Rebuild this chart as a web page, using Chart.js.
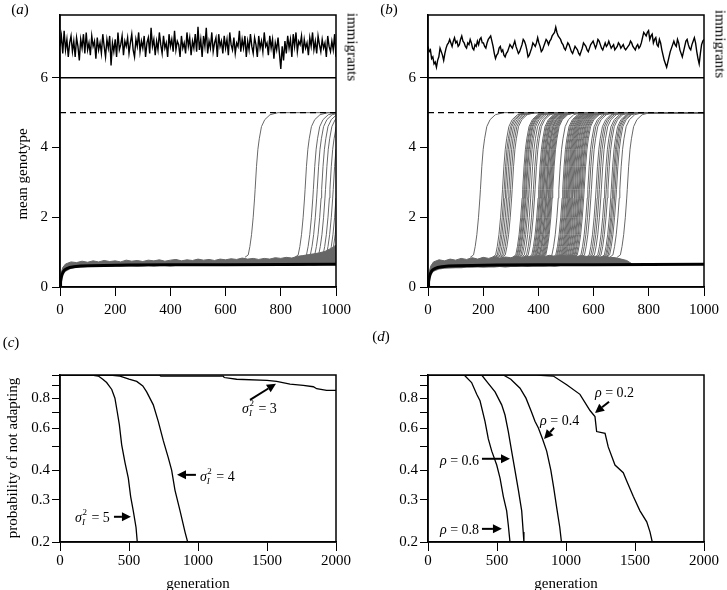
<!DOCTYPE html>
<html>
<head>
<meta charset="utf-8">
<script src="https://cdn.jsdelivr.net/npm/chart.js@4.4.1/dist/chart.umd.min.js"></script>
<style>
  body { margin: 0; background: #fff; }
  #wrap { position: relative; width: 727px; height: 590px; overflow: hidden;
          font-family: "Liberation Serif", "Times New Roman", serif; color: #000; }
  canvas { position: absolute; left: 0; top: 0; }
  .lbl { position: absolute; font-size: 15px; white-space: nowrap; line-height: 1;
         transform: translate(-50%, -50%); }
  .rotl { transform: translate(-50%, -50%) rotate(-90deg); }
  .rotr { transform: translate(-50%, -50%) rotate(90deg); }
</style>
</head>
<body>
<div id="wrap">
  <canvas id="chartA" width="727" height="590"></canvas>
  <canvas id="chartB" width="727" height="590"></canvas>
  <canvas id="chartC" width="727" height="590"></canvas>
  <canvas id="chartD" width="727" height="590"></canvas>

  <div class="lbl" style="left:20px; top:9px;">(<i>a</i>)</div>
  <div class="lbl" style="left:389px; top:9px;">(<i>b</i>)</div>
  <div class="lbl" style="left:11px; top:342px;">(<i>c</i>)</div>
  <div class="lbl" style="left:381px; top:336px;">(<i>d</i>)</div>

  <div class="lbl rotl" style="left:22px; top:174px;">mean genotype</div>
  <div class="lbl rotr" style="left:352px; top:47px;">immigrants</div>
  <div class="lbl rotr" style="left:720px; top:44px;">immigrants</div>

  <div class="lbl rotl" style="left:12px; top:458px;">probability of not adapting</div>
  <div class="lbl" style="left:198px; top:583px;">generation</div>
  <div class="lbl" style="left:566px; top:583px;">generation</div>
</div>

<script>
// ---------- data: panels (a) and (b) ----------
const generationTicks = [0, 200, 400, 600, 800, 1000];
const genotypeTicks = [0, 2, 4, 6];
const optimum = 5;

// mean genotype of populations that do not adapt (thick black)
const meanTimes = [0, 2, 5, 8, 12, 17, 25, 35, 50, 75, 110, 160, 250, 400, 600, 800, 1000];
const meanGenotype = [0, 0.15, 0.28, 0.37, 0.44, 0.49, 0.53, 0.56, 0.58, 0.6, 0.61, 0.62, 0.63, 0.635, 0.64, 0.645, 0.65];

// immigrant series in the top strips (evenly spaced over 0..1000)
const immigrantsA = [
  6.9, 7.2, 6.7, 7.35, 6.8, 7.1, 6.6, 7.0, 7.2, 6.75,
  7.05, 6.6, 7.15, 6.9, 6.5, 7.1, 6.85, 7.25, 6.7, 7.3,
  6.8, 7.0, 6.65, 7.2, 6.9, 7.05, 6.55, 7.15, 6.8, 7.0,
  6.7, 7.25, 6.9, 6.6, 7.1, 6.85, 7.2, 6.35, 7.0, 6.75,
  7.1, 6.6, 7.3, 6.8, 6.95, 7.2, 6.65, 7.05, 6.9, 7.15,
  6.7, 7.0, 7.25, 6.8, 6.6, 7.1, 6.9, 7.3, 6.75, 7.05,
  6.85, 7.2, 6.6, 7.0, 7.15, 6.7, 7.43, 6.9, 7.1, 6.65,
  7.05, 6.8, 7.3, 6.95, 6.7, 7.2, 6.85, 7.0, 6.6, 7.25,
  6.9, 7.1, 6.75, 7.35, 6.8, 7.05, 6.95, 6.6, 7.2, 6.85,
  7.0, 6.7, 7.3, 6.9, 7.15, 6.65, 7.05, 6.85, 7.25, 6.75,
  7.46, 6.8, 7.1, 6.6, 7.2, 6.9, 7.43, 6.7, 7.05, 6.85,
  7.3, 6.75, 7.0, 7.15, 6.6, 7.25, 6.9, 7.05, 6.7, 7.2,
  6.85, 7.1, 6.65, 7.3, 6.95, 6.8, 7.15, 6.7, 7.0, 6.9,
  7.35, 6.75, 7.1, 6.85, 7.2, 6.6, 7.05, 6.8, 7.25, 6.9,
  6.7, 7.15, 6.95, 6.6, 7.2, 6.85, 7.05, 6.75, 7.3, 6.9,
  7.0, 6.65, 7.2, 6.85, 7.1, 6.55, 7.0, 6.8, 7.15, 6.7,
  6.25, 6.9, 6.5, 7.05, 6.7, 7.2, 6.85, 7.1, 6.6, 7.25,
  6.9, 7.3, 6.75, 7.05, 6.95, 7.2, 6.7, 7.1, 6.85, 7.0,
  6.65, 7.15, 6.9, 7.3, 6.8, 7.05, 6.7, 7.2, 6.95, 6.75,
  7.1, 6.85, 7.0, 6.6, 7.2, 6.9, 6.75, 7.05, 6.8, 7.25,
  6.6
];
const immigrantsB = [
  6.9, 6.75, 6.8, 6.55, 6.6, 6.4, 6.45, 6.3, 6.5, 6.6, 6.85, 6.75, 6.65, 6.5, 6.7, 6.85, 6.95, 7.0,
  7.1, 7.0, 6.9, 7.05, 7.15, 7.0, 7.05, 6.9, 6.95, 7.1, 7.2, 7.05, 7.0, 6.9, 6.85, 7.0, 6.95, 7.1,
  7.0, 6.85, 6.8, 6.95, 6.9, 7.05, 6.95, 7.1, 7.15, 7.0, 7.0, 6.9, 6.85, 7.0, 7.1, 7.15, 7.2, 7.05,
  6.9, 6.7, 6.55, 6.65, 6.7, 6.85, 6.9, 6.75, 6.8, 6.65, 6.6, 6.7, 6.75, 6.85, 6.95, 6.9, 6.85, 6.95, 7.05,
  6.9, 6.8, 6.7, 6.75, 6.85, 6.95, 7.1, 7.05, 6.95, 6.8, 6.6, 6.65, 6.75, 6.85, 7.0, 6.95, 6.9, 7.0, 7.15,
  7.0, 6.9, 6.75, 6.8, 6.9, 7.0, 7.1, 7.05, 6.95, 7.05, 7.1, 7.2, 7.25, 7.3, 7.45, 7.3, 7.2, 7.15,
  7.1, 7.0, 6.95, 6.85, 6.8, 6.9, 7.0, 6.95, 6.85, 6.75, 6.7, 6.8, 6.9, 6.85, 6.8, 6.7, 6.65, 6.75, 6.85,
  7.0, 6.95, 6.9, 6.8, 6.75, 6.85, 6.95, 7.0, 7.05, 6.95, 6.85, 6.95, 7.1, 7.05, 6.95, 6.85, 6.8, 6.9, 7.0,
  6.9, 6.95, 7.05, 6.95, 6.85, 6.9, 6.95, 6.8, 6.85, 6.9, 7.0, 6.95, 6.85, 6.9, 6.95, 6.85, 6.8, 6.85,
  6.9, 6.95, 7.05, 7.0, 6.9, 6.85, 6.8, 6.9, 6.95, 6.85, 6.9, 7.0, 7.15, 7.3, 7.25, 7.2, 7.3, 7.35,
  7.1, 7.2, 7.25, 7.0, 7.1, 7.15, 6.95, 6.9, 7.1, 7.0, 6.8, 6.65, 6.5, 6.4, 6.3, 6.45, 6.6, 6.75,
  6.85, 6.95, 7.05, 6.95, 6.9, 7.1, 7.0, 6.8, 6.7, 6.6, 6.75, 6.9, 7.05, 7.1, 6.95, 6.85, 6.8, 6.95,
  7.05, 7.15, 7.0, 6.75, 6.55, 6.4, 6.7, 6.95, 7.05, 7.1
];

// grey band of non-adapted replicates: lower / upper edge
const bandTimesA = [0, 5, 10, 20, 40, 60, 80, 100, 120, 140, 160, 180, 200, 220, 240, 260, 280, 300, 320, 340,
  360, 380, 400, 420, 440, 460, 480, 500, 520, 540, 560, 580, 600, 620, 640, 660, 680, 700, 720, 740,
  760, 780, 800, 820, 840, 860, 880, 900, 920, 940, 960, 980, 1000];
const bandUpperA = [0, 0.42, 0.56, 0.66, 0.72, 0.70, 0.74, 0.71, 0.75, 0.72, 0.76, 0.73, 0.75, 0.72, 0.77, 0.74, 0.76, 0.73, 0.77, 0.75,
  0.78, 0.74, 0.77, 0.79, 0.75, 0.78, 0.76, 0.8, 0.77, 0.79, 0.76, 0.8, 0.78, 0.81, 0.79, 0.83, 0.8, 0.82, 0.79, 0.82,
  0.8, 0.84, 0.82, 0.85, 0.83, 0.88, 0.9, 0.93, 0.95, 0.98, 1.02, 1.1, 1.2];
const bandLowerA = [0, 0.2, 0.33, 0.44, 0.52, 0.55, 0.56, 0.57, 0.57, 0.58, 0.58, 0.58, 0.59, 0.58, 0.59, 0.59, 0.58, 0.59, 0.6, 0.59,
  0.6, 0.6, 0.59, 0.6, 0.6, 0.61, 0.6, 0.6, 0.61, 0.6, 0.61, 0.61, 0.6, 0.61, 0.61, 0.62, 0.61, 0.61, 0.62, 0.61,
  0.62, 0.62, 0.61, 0.62, 0.62, 0.62, 0.62, 0.63, 0.62, 0.63, 0.63, 0.63, 0.63];

const bandTimesB = [0, 5, 10, 20, 40, 60, 80, 100, 120, 140, 160, 180, 200, 220, 240, 260, 280, 300, 320, 340,
  360, 380, 400, 420, 440, 460, 480, 500, 520, 540, 560, 580, 600, 620, 640, 660, 680, 700, 720, 740];
const bandUpperB = [0, 0.45, 0.6, 0.72, 0.78, 0.75, 0.8, 0.77, 0.82, 0.79, 0.84, 0.8, 0.85, 0.82, 0.87, 0.83, 0.86, 0.84, 0.88, 0.85,
  0.89, 0.86, 0.9, 0.87, 0.91, 0.88, 0.92, 0.89, 0.9, 0.88, 0.9, 0.87, 0.89, 0.86, 0.88, 0.85, 0.84, 0.8, 0.76, 0.66];
const bandLowerB = [0, 0.2, 0.33, 0.44, 0.5, 0.52, 0.53, 0.54, 0.54, 0.55, 0.55, 0.56, 0.55, 0.56, 0.56, 0.57, 0.56, 0.57, 0.57, 0.58,
  0.57, 0.58, 0.58, 0.58, 0.59, 0.58, 0.6, 0.62, 0.63, 0.63, 0.64, 0.64, 0.64, 0.64, 0.64, 0.65, 0.65, 0.65, 0.65, 0.65];

// shape of one adapting trajectory in (a): offset from the time it crosses ~2.8
const riseOffsets = [-37, -25, -19, -13, -7, -2, 0, 5, 10, 15, 23, 35, 54, 83, 1100];
const riseGenotype = [0.85, 0.92, 1.16, 1.5, 2.0, 2.55, 2.8, 3.46, 3.95, 4.25, 4.6, 4.8, 4.94, 5.0, 5.0];

// generation at which each replicate takes off
const riseTimesA = [707, 888, 918, 932, 948, 962, 978, 990, 1002, 1010];
const riseTimesB = [190, 270, 276, 281, 287, 293, 299, 305, 343, 347, 350, 354, 357, 362, 367, 374, 382, 388,
  401, 405, 408, 412, 415, 418, 420, 424, 428, 430, 433, 437, 440, 443, 446, 449, 452, 474,
  488, 492, 495, 499, 502, 506, 509, 512, 515, 518, 521, 524, 527, 531, 534, 538, 541, 545, 548, 551, 555, 558, 562, 566,
  579, 585, 592, 609, 615, 621, 628, 640, 646, 652, 664, 669, 673, 678, 683, 695, 722];

// ---------- data: panels (c) and (d) ----------
const survGenTicks = [0, 500, 1000, 1500, 2000];
const probTicks = [0.2, 0.3, 0.4, 0.5, 0.6, 0.7, 0.8, 0.9, 1.0];
const probLabels = [0.2, 0.3, 0.4, 0.6, 0.8];

const sigma3Times = [0, 720, 730, 1183, 1190, 1280, 1500, 1570, 1667, 1763, 1836, 1860, 1932, 2000];
const sigma3Prob  = [1, 1, 0.99, 0.99, 0.976, 0.96, 0.95, 0.94, 0.915, 0.905, 0.893, 0.876, 0.862, 0.862];
const sigma4Times = [0, 362, 435, 500, 556, 600, 628, 676, 712, 749, 785, 809, 833, 870, 906, 925];
const sigma4Prob  = [1, 1, 0.99, 0.96, 0.94, 0.9, 0.85, 0.75, 0.64, 0.53, 0.45, 0.4, 0.33, 0.27, 0.22, 0.2];
const sigma5Times = [0, 230, 278, 310, 338, 375, 398, 415, 430, 447, 471, 495, 512, 531, 551, 560];
const sigma5Prob  = [1, 1, 0.99, 0.96, 0.93, 0.87, 0.8, 0.7, 0.62, 0.51, 0.43, 0.37, 0.31, 0.27, 0.23, 0.2];

const rho2Times = [0, 787, 908, 1005, 1101, 1174, 1210, 1222, 1283, 1306, 1355, 1415, 1440, 1488, 1536, 1585, 1609, 1625];
const rho2Prob  = [1, 1, 0.99, 0.91, 0.83, 0.71, 0.67, 0.58, 0.57, 0.5, 0.42, 0.39, 0.36, 0.31, 0.27, 0.243, 0.22, 0.2];
const rho4Times = [0, 546, 600, 667, 710, 750, 775, 800, 830, 860, 890, 910, 932, 955, 967];
const rho4Prob  = [1, 1, 0.96, 0.88, 0.8, 0.7, 0.64, 0.6, 0.54, 0.48, 0.4, 0.34, 0.28, 0.23, 0.2];
const rho6Times = [0, 389, 425, 486, 534, 558, 582, 606, 630, 655, 679, 690, 695];
const rho6Prob  = [1, 1, 0.94, 0.85, 0.75, 0.68, 0.58, 0.48, 0.4, 0.33, 0.27, 0.22, 0.2];
const rho8Times = [0, 262, 316, 353, 377, 413, 437, 462, 498, 522, 546, 570, 582, 594];
const rho8Prob  = [1, 1, 0.93, 0.83, 0.78, 0.64, 0.54, 0.48, 0.42, 0.37, 0.31, 0.27, 0.235, 0.2];

// ---------- drawing ----------
const serif = '"Liberation Serif", "Times New Roman", serif';
const tickFont = { family: serif, size: 15 };

function pts(xs, ys) { return xs.map((x, i) => ({ x: x, y: ys[i] })); }

function drawArrow(ctx, x1, y1, x2, y2) {
  const a = Math.atan2(y2 - y1, x2 - x1), L = 9, W = 4.5;
  const bx = x2 - L * Math.cos(a), by = y2 - L * Math.sin(a);
  ctx.lineWidth = 2;
  ctx.beginPath(); ctx.moveTo(x1, y1); ctx.lineTo(bx, by); ctx.stroke();
  ctx.beginPath();
  ctx.moveTo(x2, y2);
  ctx.lineTo(bx + W * Math.sin(a), by - W * Math.cos(a));
  ctx.lineTo(bx - W * Math.sin(a), by + W * Math.cos(a));
  ctx.closePath(); ctx.fill();
}

function drawNote(ctx, sx, sy, n) {
  const px = sx.getPixelForValue(n.at[0]), py = sy.getPixelForValue(n.at[1]);
  ctx.textAlign = 'left'; ctx.textBaseline = 'alphabetic';
  ctx.font = 'italic 14px ' + serif;
  ctx.fillText(n.symbol, px, py);
  let x = px + ctx.measureText(n.symbol).width;
  if (n.sup) {
    ctx.font = '9px ' + serif;
    ctx.fillText(n.sup, x + 0.5, py - 7);
    ctx.font = 'italic 9px ' + serif;
    ctx.fillText(n.sub, x, py + 3);
    x += 6;
  }
  ctx.font = '14px ' + serif;
  ctx.fillText(' = ' + n.value, x, py);
  drawArrow(ctx, sx.getPixelForValue(n.from[0]), sy.getPixelForValue(n.from[1]),
                 sx.getPixelForValue(n.to[0]), sy.getPixelForValue(n.to[1]));
}

// closes the box, draws the strip divider and the annotations
const framePlugin = {
  id: 'frame',
  afterDraw(chart, args, opts) {
    const { ctx, chartArea: a, scales } = chart;
    ctx.save();
    ctx.strokeStyle = '#000'; ctx.fillStyle = '#000'; ctx.lineWidth = 1.5;
    ctx.strokeRect(a.left, a.top, a.right - a.left, a.bottom - a.top);
    if (opts.sep != null) {
      const y = scales.y.getPixelForValue(opts.sep);
      ctx.beginPath(); ctx.moveTo(a.left, y); ctx.lineTo(a.right, y); ctx.stroke();
    }
    (opts.notes || []).forEach(n => drawNote(ctx, scales.x, scales.y, n));
    ctx.restore();
  }
};
Chart.register(framePlugin);

function axisX(max, tickVals, pad) {
  return {
    type: 'linear', min: 0, max: max,
    afterFit(s) { s.height = 40; },
    afterBuildTicks(s) { s.ticks = tickVals.map(v => ({ value: v })); },
    grid: { drawOnChartArea: false, drawTicks: true, tickLength: 9, color: '#000', tickWidth: 1 },
    border: { color: '#000', width: 1.5 },
    ticks: { color: '#000', font: tickFont, padding: pad, maxRotation: 0, autoSkip: false,
             callback: v => String(v) }
  };
}

function baseOptions(pad) {
  return {
    responsive: false, animation: false, devicePixelRatio: 1,
    layout: { padding: pad },
    elements: { point: { radius: 0 }, line: { tension: 0 } },
    events: []
  };
}

function makeTopChart(id, pad, immigrants, bandTimes, bandLower, bandUpper, riseTimes) {
  const datasets = [];
  datasets.push({ data: pts(meanTimes, meanGenotype), borderColor: '#000', borderWidth: 3, order: 0 });
  datasets.push({ data: [{ x: 0, y: optimum }, { x: 1000, y: optimum }], borderColor: '#000',
                  borderWidth: 1.2, borderDash: [6, 4], order: 1 });
  datasets.push({ data: immigrants.map((v, i) => ({ x: i * 1000 / (immigrants.length - 1), y: v })),
                  borderColor: '#000', borderWidth: 1.4, order: 1 });
  riseTimes.forEach(r => {
    datasets.push({ data: riseOffsets.map((o, i) => ({ x: r + o, y: riseGenotype[i] })),
                    borderColor: '#686868', borderWidth: 1, order: 2 });
  });
  const lowerIdx = datasets.length;
  datasets.push({ data: pts(bandTimes, bandLower), borderColor: 'rgba(0,0,0,0)', borderWidth: 0, order: 3 });
  datasets.push({ data: pts(bandTimes, bandUpper), borderColor: '#666', borderWidth: 1,
                  backgroundColor: '#666', fill: lowerIdx, order: 3 });

  const options = baseOptions(pad);
  options.plugins = { legend: { display: false }, tooltip: { enabled: false }, frame: { sep: 6 } };
  options.scales = {
    x: axisX(1000, generationTicks, 5),
    y: {
      type: 'linear', min: 0, max: 7.8,
      afterFit(s) { s.width = 45; },
      afterBuildTicks(s) { s.ticks = genotypeTicks.map(v => ({ value: v })); },
      grid: { drawOnChartArea: false, drawTicks: true, tickLength: 8, color: '#000' },
      border: { color: '#000', width: 1.5 },
      ticks: { color: '#000', font: tickFont, padding: 4 }
    }
  };
  return new Chart(document.getElementById(id), { type: 'line', data: { datasets }, options });
}

function makeSurvChart(id, pad, series, notes) {
  const datasets = series.map(s => ({ data: pts(s[0], s[1]), borderColor: '#000', borderWidth: 1.3 }));
  const options = baseOptions(pad);
  options.plugins = { legend: { display: false }, tooltip: { enabled: false }, frame: { notes: notes } };
  options.scales = {
    x: axisX(2000, survGenTicks, 1),
    y: {
      type: 'logarithmic', min: 0.2, max: 1.0,
      afterFit(s) { s.width = 45; },
      afterBuildTicks(s) { s.ticks = probTicks.map(v => ({ value: v })); },
      grid: { drawOnChartArea: false, drawTicks: true, tickLength: 8, color: '#000' },
      border: { color: '#000', width: 1.5 },
      ticks: {
        color: '#000', font: tickFont, padding: 2, autoSkip: false,
        callback: v => probLabels.some(l => Math.abs(l - v) < 1e-6) ? v.toFixed(1) : ''
      }
    }
  };
  return new Chart(document.getElementById(id), { type: 'line', data: { datasets }, options });
}

makeTopChart('chartA', { left: 15, right: 391, top: 15, bottom: 263 },
             immigrantsA, bandTimesA, bandLowerA, bandUpperA, riseTimesA);
makeTopChart('chartB', { left: 383, right: 23, top: 15, bottom: 263 },
             immigrantsB, bandTimesB, bandLowerB, bandUpperB, riseTimesB);

makeSurvChart('chartC', { left: 15, right: 391, top: 375, bottom: 8 },
  [[sigma3Times, sigma3Prob], [sigma4Times, sigma4Prob], [sigma5Times, sigma5Prob]],
  [
    { symbol: 'σ', sup: '2', sub: 'I', value: '3', at: [1319, 0.694], from: [1377, 0.787], to: [1565, 0.919] },
    { symbol: 'σ', sup: '2', sub: 'I', value: '4', at: [1014, 0.361], from: [985, 0.382], to: [848, 0.382] },
    { symbol: 'σ', sup: '2', sub: 'I', value: '5', at: [109, 0.243], from: [391, 0.255], to: [514, 0.255] }
  ]);

makeSurvChart('chartD', { left: 383, right: 23, top: 375, bottom: 8 },
  [[rho2Times, rho2Prob], [rho4Times, rho4Prob], [rho6Times, rho6Prob], [rho8Times, rho8Prob]],
  [
    { symbol: 'ρ', value: '0.2', at: [1210, 0.811], from: [1312, 0.773], to: [1210, 0.694] },
    { symbol: 'ρ', value: '0.4', at: [812, 0.619], from: [913, 0.601], to: [841, 0.54] },
    { symbol: 'ρ', value: '0.6', at: [87, 0.421], from: [391, 0.446], to: [594, 0.446] },
    { symbol: 'ρ', value: '0.8', at: [87, 0.216], from: [391, 0.227], to: [536, 0.227] }
  ]);
</script>
</body>
</html>
